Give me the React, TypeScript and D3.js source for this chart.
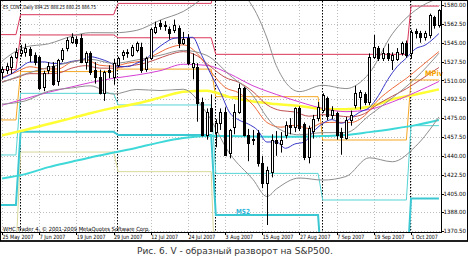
import React from "react";
import * as d3 from "d3";

// ---------- candles (ES_CONT daily, 25 May 2007 .. 9 Oct 2007) ----------
const OPEN = [1518,1519.5,1522,1532,1535,1536,1539,1534,1532,1504,1520,1523,1509,1530,1540,1546,1548,1549,1527,1535,1519.5,1513.5,1498,1519.5,1513.5,1524,1534,1536.5,1534,1538,1541,1521,1530.5,1555,1563,1560.5,1557.5,1556.8,1558.3,1544.4,1549,1522,1522.8,1490.3,1459.3,1484,1462.4,1470.2,1481,1442.3,1467.1,1481,1502.7,1459.3,1456,1460.9,1433,1414.5,1425.3,1455,1451,1459.3,1468.5,1467,1484,1470,1439,1463,1474.8,1483,1494,1478,1480,1462.4,1456.2,1473.3,1487,1495,1497,1490.3,1532,1539.8,1530.5,1535.1,1528.9,1530,1535,1544.4,1535,1555.8,1553.7,1550.6,1552.2,1569.2,1561.4];
const HIGH = [1523,1526,1533,1540,1543,1544,1541,1536,1533,1519,1527,1527,1530,1540,1550,1553.7,1551,1553,1537,1537,1527,1520,1519,1524,1530,1532,1538,1539,1543,1546,1545,1532,1559,1564.5,1566,1565,1560,1566.5,1561,1555,1553,1535,1526,1494,1484,1497,1474,1484,1485,1465,1488,1507,1504,1465,1464,1464,1440,1430,1460,1463,1462,1472,1475,1485,1486,1471,1468,1478,1490,1498,1495,1486,1481,1466,1476,1482,1505,1501,1499,1535,1552.2,1542,1540,1544,1536,1540,1546,1547,1557,1558,1556,1556,1572,1570,1576];
const LOW = [1511,1516,1516,1530,1532,1532,1527,1524,1501,1500,1516,1505,1505,1527,1537,1544,1541,1526,1520,1515,1507,1497,1491,1512,1506,1522,1529,1531,1532,1536,1517,1518,1529,1553,1557,1556,1548,1554,1540,1543,1524,1511,1471.7,1458,1455,1462,1448,1464,1440,1437.7,1460,1479,1458,1435,1450,1430,1410,1375.8,1420,1440,1443,1456,1460,1462,1463,1436,1433,1456,1472,1480,1473,1474,1455,1441,1455,1468,1484,1483,1487,1487,1530,1528,1528,1528,1519.7,1528,1533,1531,1530,1549,1545,1547,1549,1558,1559];
const CLOSE = [1521,1523,1532,1536.5,1538,1540,1534,1527,1503,1517,1523,1507,1529,1538.5,1547.5,1550.5,1545,1527,1535,1518,1513.5,1498,1518,1518,1526,1530.5,1536,1535,1541,1544.5,1520,1530.5,1558,1560,1560.5,1561,1554.3,1561.4,1544.4,1548,1526,1526,1488.7,1459.3,1481,1463,1470.2,1481,1440.8,1464,1481,1502.7,1459.3,1451.6,1454.5,1433,1414.5,1426.8,1454.7,1452,1455,1468.6,1467,1484,1465.5,1439,1465.5,1474,1485.6,1496,1477,1482.5,1459.3,1457.8,1473.3,1477.9,1498,1499,1490,1532,1541.3,1530.5,1535.1,1530.5,1533.6,1536.7,1544.4,1533.6,1555.2,1553.7,1550.6,1553.7,1570.7,1561.4,1575.4];

// ---------- axes ----------
const X_LABELS = ["25 May 2007","7 Jun 2007","19 Jun 2007","29 Jun 2007","12 Jul 2007","24 Jul 2007","3 Aug 2007","15 Aug 2007","27 Aug 2007","7 Sep 2007","19 Sep 2007","1 Oct 2007"];
const X_LABEL_IDX = [0,8,16,24,32,40,48,56,64,72,80,88];
const Y_TICKS = [1580,1562.5,1545,1527.5,1510,1492.5,1475,1457.5,1440,1422.5,1405,1388,1370.5];

// ---------- indicator lines (read at sample bars) ----------
const SLOW_IDX = [0,5,10,15,19,24,29,34,39,44,49,54,57,59,64,69,74,79,84,89,94];
const BB_MID = [1508,1516,1522,1527,1529.6,1525.8,1529,1533.3,1537.9,1533.3,1514.9,1495.9,1475.8,1466.5,1459.5,1461.5,1461.6,1477.4,1493.9,1512.1,1535.2];
const BB_UP = [1528,1541,1544,1551,1554.3,1554.2,1556.5,1565.9,1574,1588,1596,1578,1549.4,1523.9,1499.6,1505.5,1502.4,1516.6,1553.3,1575.3,1586.4];
const BB_LO = [1488,1491,1500,1503,1505,1497.3,1501.6,1500.6,1501.8,1480,1442,1418,1402.2,1409.1,1419.4,1417.5,1420.8,1438.2,1434.5,1448.9,1476];
const MA_YELLOW = [1459,1464,1469.5,1475,1479.5,1484.5,1488.5,1494,1499.5,1500.5,1494.5,1490.5,1489,1488,1486.3,1483.5,1483.2,1485.5,1492.5,1497,1501.7];
const MA_CYAN = [1419,1423,1429.5,1434.5,1438.5,1443,1447.5,1452.5,1456.5,1458.5,1458.5,1458,1457.8,1457.8,1457.8,1458.3,1459.3,1462,1465,1468.5,1473.3];
const MA_MAGENTA = [1487,1493,1499,1504,1508,1512,1515,1519,1525,1524,1516,1505,1500,1497,1490,1484,1481,1483,1490,1499,1509];

const MID_IDX = [0,3,6,9,12,15,18,21,24,27,30,33,36,39,42,45,48,51,54,57,60,63,66,69,72,75,78,81,84,87,90,94];
const MA_RED = [1512.9,1517.6,1522.7,1520.8,1520.6,1527.1,1529.2,1524.1,1523.3,1526,1528.2,1534,1540.3,1543,1535,1517.7,1503.5,1498.4,1487.2,1471,1466.6,1468.4,1465.4,1470.7,1471.1,1470.9,1477.2,1492.1,1502.7,1511.9,1522.5,1536.8];
const MA_BROWN = [1508.7,1512.3,1516.3,1516.2,1516.7,1521.4,1523.7,1521.4,1521.3,1523.3,1525.2,1529.2,1533.9,1536.7,1532.8,1522.3,1512.8,1508.1,1499.5,1487.4,1482,1480.7,1476.8,1478.2,1477.3,1476.1,1479.2,1488.2,1495.4,1502.3,1510.5,1522];

const BLUE_IDX = [0,2,4,6,8,9,11,13,15,17,19,21,23,25,27,29,31,33,35,37,39,41,43,45,47,49,51,53,55,57,59,61,63,65,67,69,71,73,75,77,79,81,83,85,87,89,91,93,94];
const MA_BLUE = [1512,1516,1522,1527,1527,1527.2,1525.8,1525.7,1527.7,1528.8,1532,1530.2,1527,1522.9,1522.8,1526,1530,1538.2,1544.7,1549.1,1549.8,1550,1533,1515.2,1498.8,1480,1473.2,1469.5,1463.8,1452.8,1453,1447,1451,1452.7,1462.5,1470,1473.6,1470.2,1474.9,1480.6,1484.7,1495.9,1510.8,1522.7,1530.8,1539.5,1542.7,1549.4,1553.5];

// ---------- monthly pivot levels (May, Jun, Jul, Aug, Sep, Oct) ----------
const MONTH_START = [-1,4,25,46,69,88];
const MONTH_END = [3,24,45,68,87,94];
const PIV_R2 = [1552.5,1571,1581.5,1600,1592,1620];
const PIV_R1 = [1520,1552.2,1549.6,1534.2,1534.2,1579];
const PIV_P = [1473.3,1518.2,1520.5,1494.9,1454.7,1510.4];
const PIV_S1 = [1440.8,1498,1487.2,1423.7,1399,1468];
const PIV_S2 = [1394.4,1462.4,1459.3,1385,1324,1400.5];
const PIV_S3 = [1350,1443.5,1425.3,1309,1330,1355];

const PLOT_R = 441;
const PLOT_B = 232;

export default function App() {
  const x = d3.scaleLinear().domain([0, 94]).range([2, 2 + 4.648 * 94]);
  const y = d3.scaleLinear().domain([1370.5, 1580]).range([230.7, 5]);

  const smooth = (idx: number[], vals: number[]) =>
    d3.line<number>().x((_, k) => x(idx[k])).y((v) => y(v)).curve(d3.curveMonotoneX)(vals) || "";

  const step = (vals: number[]) => {
    const pts: [number, number][] = [];
    MONTH_START.forEach((s, m) => {
      pts.push([x(s), y(vals[m])]);
      pts.push([x(MONTH_END[m]), y(vals[m])]);
    });
    return d3.line()(pts) || "";
  };

  const font = "'DejaVu Sans', Verdana, sans-serif";

  return (
    <svg width={468} height={257} style={{ position: "absolute", left: 0, top: 0, background: "#fff" }}>
      <defs>
        <clipPath id="plotclip">
          <rect x={1} y={1} width={PLOT_R - 1} height={PLOT_B - 1} />
        </clipPath>
      </defs>
      <rect x={0} y={0} width={468} height={257} fill="#fff" />

      {/* grid */}
      <g stroke="#bdbdbd" strokeWidth={1} strokeDasharray="1,2">
        {Y_TICKS.map((t) => (
          <line key={"gy" + t} x1={1} x2={PLOT_R} y1={Math.round(y(t)) + 0.5} y2={Math.round(y(t)) + 0.5} />
        ))}
        {X_LABEL_IDX.map((i) => (
          <line key={"gx" + i} x1={Math.round(x(i)) + 0.5} x2={Math.round(x(i)) + 0.5} y1={1} y2={PLOT_B} />
        ))}
      </g>

      <g clipPath="url(#plotclip)">
        {/* period separators */}
        <g stroke="#000" strokeWidth={1} strokeDasharray="1.5,1.5">
          {MONTH_START.slice(1).map((i) => (
            <line key={"ps" + i} x1={Math.round(x(i)) - 0.5} x2={Math.round(x(i)) - 0.5} y1={1} y2={PLOT_B} />
          ))}
        </g>

        {/* monthly pivots */}
        <path d={step(PIV_S3)} fill="none" stroke="#d8d89a" strokeWidth={1} />
        <path d={step(PIV_S1)} fill="none" stroke="#55d4d4" strokeWidth={1} />
        <path d={step(PIV_S2)} fill="none" stroke="#3cc8d2" strokeWidth={2} />
        <path d={step(PIV_P)} fill="none" stroke="#f5a623" strokeWidth={1} />
        <path d={step(PIV_R1)} fill="none" stroke="#d9365a" strokeWidth={1} />
        <path d={step(PIV_R2)} fill="none" stroke="#d9365a" strokeWidth={1} />

        {/* moving averages */}
        <path d={smooth(SLOW_IDX, MA_CYAN)} fill="none" stroke="#3ed8d8" strokeWidth={2} />
        <path d={smooth(SLOW_IDX, MA_YELLOW)} fill="none" stroke="#ffff33" strokeWidth={2.5} />
        <path d={smooth(SLOW_IDX, MA_MAGENTA)} fill="none" stroke="#d43fd4" strokeWidth={1} />
        <path d={smooth(MID_IDX, MA_BROWN)} fill="none" stroke="#c05050" strokeWidth={1} />
        <path d={smooth(MID_IDX, MA_RED)} fill="none" stroke="#ee6a3a" strokeWidth={1} />
        <path d={smooth(BLUE_IDX, MA_BLUE)} fill="none" stroke="#3838c8" strokeWidth={1} />

        {/* bollinger */}
        <g fill="none" stroke="#8e8e8e" strokeWidth={1}>
          <path d={smooth(SLOW_IDX, BB_UP)} />
          <path d={smooth(SLOW_IDX, BB_MID)} />
          <path d={smooth(SLOW_IDX, BB_LO)} />
        </g>

        {/* candles */}
        {CLOSE.map((c, i) => {
          const o = OPEN[i];
          const cx = Math.round(x(i));
          const top = Math.round(y(Math.max(o, c)));
          const bot = Math.round(y(Math.min(o, c)));
          const up = c >= o;
          return (
            <g key={"c" + i}>
              <line x1={cx + 0.5} x2={cx + 0.5} y1={y(HIGH[i])} y2={y(LOW[i])} stroke="#000" strokeWidth={1} />
              <rect x={cx - 0.5} y={top + 0.5} width={2} height={Math.max(bot - top, 1)} fill={up ? "#fff" : "#000"} stroke="#000" strokeWidth={1} />
            </g>
          );
        })}
      </g>

      {/* labels inside plot */}
      <text x={236} y={213.5} fontFamily={font} fontWeight="bold" fontSize={7} fill="#2fb5d8" textLength={14} lengthAdjust="spacingAndGlyphs">MS2</text>
      <text x={425} y={76} fontFamily={font} fontWeight="bold" fontSize={7.5} fill="#f5a300" textLength={18} lengthAdjust="spacingAndGlyphs">MPiv</text>
      <text x={3} y={8.5} fontFamily={font} fontSize={5.6} fill="#000" textLength={93} lengthAdjust="spacingAndGlyphs">ES_CONT,Daily 884.25 888.25 880.25 886.75</text>
      <text x={3} y={230.5} fontFamily={font} fontSize={5.6} fill="#000" textLength={147} lengthAdjust="spacingAndGlyphs">WHC Trader 4, © 2001-2009 MetaQuotes Software Corp.</text>

      {/* plot frame */}
      <line x1={PLOT_R + 0.5} x2={PLOT_R + 0.5} y1={0} y2={PLOT_B + 1} stroke="#000" />
      <line x1={0} x2={PLOT_R + 1} y1={PLOT_B + 0.5} y2={PLOT_B + 0.5} stroke="#000" />

      {/* y axis */}
      {Y_TICKS.map((t) => (
        <g key={"yl" + t}>
          <line x1={PLOT_R} x2={PLOT_R + 3} y1={Math.round(y(t)) + 0.5} y2={Math.round(y(t)) + 0.5} stroke="#000" />
          <text x={443.5} y={y(t) + 2.1} fontFamily={font} fontSize={5.8} fill="#000" textLength={22.5} lengthAdjust="spacingAndGlyphs">
            {t.toFixed(2)}
          </text>
        </g>
      ))}

      {/* x axis */}
      {X_LABEL_IDX.map((i, k) => (
        <g key={"xl" + i}>
          <line x1={Math.round(x(i)) + 0.5} x2={Math.round(x(i)) + 0.5} y1={PLOT_B} y2={PLOT_B + 3} stroke="#000" />
          <text transform={`translate(${x(i) + 0.5},239) scale(0.82,1)`} fontFamily={font} fontSize={5.8} fill="#000">
            {X_LABELS[k]}
          </text>
        </g>
      ))}

      {/* outer frame */}
      <rect x={0.5} y={0.5} width={467} height={240.5} fill="none" stroke="#000" strokeWidth={1} />
      <line x1={0} x2={468} y1={241} y2={241} stroke="#000" strokeWidth={1.5} />

      {/* caption */}
      <text x={235} y={254} textAnchor="middle" fontFamily={font} fontSize={9} fill="#333">
        {"Рис. 6. V - образный разворот на S&P500."}
      </text>
    </svg>
  );
}
